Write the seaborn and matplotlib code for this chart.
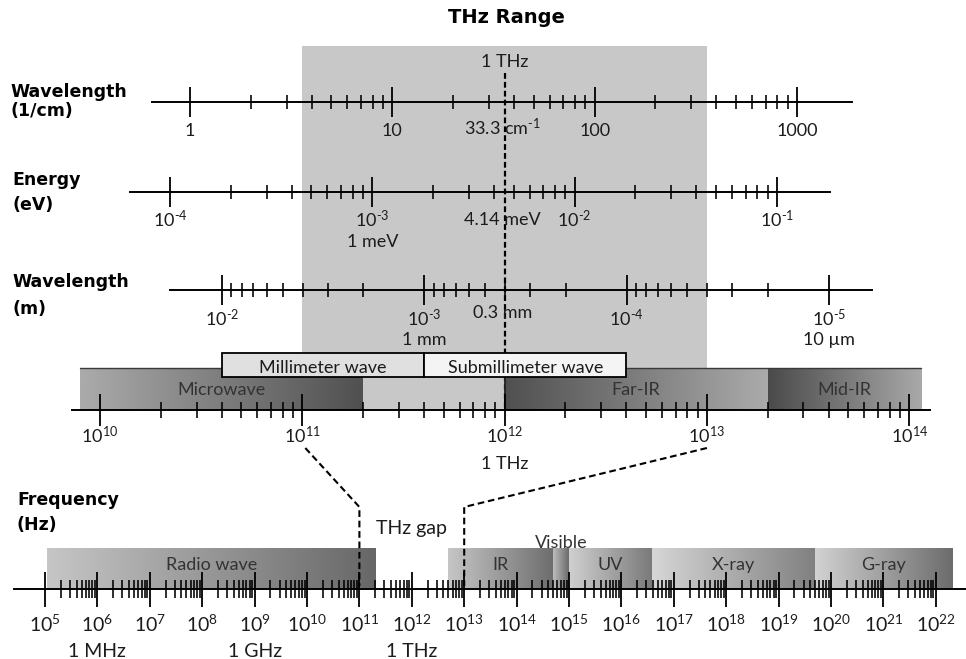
import numpy as np
import matplotlib
matplotlib.use("Agg")
import matplotlib.pyplot as plt
from matplotlib.patches import Rectangle
import seaborn as sns

# ---------------- values ----------------
# wavenumber ruler (1/cm)
wavenumber_major = [1, 10, 100, 1000]
wavenumber_labels = ["1", "10", "100", "1000"]

# photon energy ruler (eV)
energy_major = [1e-4, 1e-3, 1e-2, 1e-1]
energy_labels = ["$10^{‐4}$", "$10^{‐3}$", "$10^{‐2}$", "$10^{‐1}$"]
energy_notes = ["", "1 meV", "", ""]

# wavelength ruler (m), decreasing to the right
wavelength_major = [1e-2, 1e-3, 1e-4, 1e-5]
wavelength_labels = ["$10^{‐2}$", "$10^{‐3}$", "$10^{‐4}$", "$10^{‐5}$"]
wavelength_notes = ["", "1 mm", "", "10 µm"]

# zoomed frequency ruler (Hz)
thz_major = [1e10, 1e11, 1e12, 1e13, 1e14]
thz_labels = ["$10^{10}$", "$10^{11}$", "$10^{12}$", "$10^{13}$", "$10^{14}$"]
thz_notes = ["", "", "1 THz", "", ""]

# full spectrum frequency ruler (Hz)
spec_major = [1e5, 1e6, 1e7, 1e8, 1e9, 1e10, 1e11, 1e12, 1e13,
              1e14, 1e15, 1e16, 1e17, 1e18, 1e19, 1e20, 1e21, 1e22]
spec_labels = ["$10^{5}$", "$10^{6}$", "$10^{7}$", "$10^{8}$", "$10^{9}$",
               "$10^{10}$", "$10^{11}$", "$10^{12}$", "$10^{13}$", "$10^{14}$",
               "$10^{15}$", "$10^{16}$", "$10^{17}$", "$10^{18}$", "$10^{19}$",
               "$10^{20}$", "$10^{21}$", "$10^{22}$"]
spec_notes = ["", "1 MHz", "", "", "1 GHz", "", "", "1 THz", "",
              "", "", "", "", "", "", "", "", ""]

# THz region (Hz) and 1 THz marker
thz_range = (1e11, 1e13)
thz_marker = 1e12
thz_marker_notes = ["33.3 cm$^{‐1}$", "4.14 meV", "0.3 mm"]

# bands on the zoomed ruler (Hz)
zoom_bands = ["Microwave", "Far-IR", "Mid-IR"]
zoom_band_lo = [8e9, 1e12, 2e13]
zoom_band_hi = [2e11, 2e13, 1.15e14]
zoom_band_colors = [("#ababab", "#505050"), ("#505050", "#ababab"),
                    ("#4a4a4a", "#a9a9a9")]

wave_bands = ["Millimeter wave", "Submillimeter wave"]
wave_band_lo = [4e10, 4e11]
wave_band_hi = [4e11, 4e12]
wave_band_colors = ["#e0e0e0", "#f4f4f4"]

# bands on the full spectrum ruler (Hz)
spec_bands = ["Radio wave", "IR", "Visible", "UV", "X-ray", "G-ray"]
spec_band_lo = [1.1e5, 5e12, 5e14, 1e15, 3.8e16, 5e19]
spec_band_hi = [2e11, 5e14, 1e15, 3.8e16, 5e19, 2.1e22]
spec_band_colors = [("#c6c6c6", "#676767"), ("#c6c6c6", "#6e6e6e"),
                    ("#bdbdbd", "#6a6a6a"), ("#d0d0d0", "#7a7a7a"),
                    ("#d6d6d6", "#808080"), ("#d2d2d2", "#6c6c6c")]

# ---------------- style ----------------
sns.set_theme(style="white")
plt.rcParams["font.family"] = ["Lato", "DejaVu Sans"]
plt.rcParams["mathtext.fontset"] = "custom"
plt.rcParams["mathtext.rm"] = "Lato"
plt.rcParams["mathtext.default"] = "regular"

W, H = 966, 659
TXT = "#1c1c1c"
BAND_TXT = "#333333"
HEAD = dict(family="DejaVu Sans", weight="bold", size=12.5, color="black")

fig = plt.figure(figsize=(W / 100, H / 100), dpi=100)
bg = fig.add_axes([0, 0, 1, 1])
bg.set_xlim(0, W)
bg.set_ylim(H, 0)
bg.set_autoscale_on(False)
bg.axis("off")


def minors(major):
    decades = sorted(major)[:-1]
    return [m * d for d in decades for m in range(2, 10)]


def ruler(anchor_val, anchor_px, decade_px, y_line, x_from, x_to, major,
          major_len, minor_len, lw=1.4):
    ax = fig.add_axes([0, 0, 1, 1])
    ax.patch.set_visible(False)

    def to_val(p):
        return anchor_val * 10 ** ((p - anchor_px) / decade_px)

    ax.set_xscale("log")
    ax.set_xlim(to_val(0), to_val(W))
    ax.set_ylim(H, 0)
    ax.grid(False)
    for s in ("top", "left", "right"):
        ax.spines[s].set_visible(False)
    sp = ax.spines["bottom"]
    sp.set_visible(True)
    sp.set_position(("data", y_line))
    sp.set_bounds(to_val(x_from), to_val(x_to))
    sp.set_color("black")
    sp.set_linewidth(lw)
    ax.set_xticks(major)
    ax.set_xticks(minors(major), minor=True)
    ax.tick_params(axis="x", which="major", direction="inout", bottom=True,
                   length=major_len * 0.72, width=1.3, color="black",
                   labelbottom=False)
    ax.tick_params(axis="x", which="minor", direction="inout", bottom=True,
                   length=minor_len * 0.72, width=1.15, color="black",
                   labelbottom=False)
    ax.tick_params(axis="y", left=False, labelleft=False)
    ax.set_xlim(to_val(0), to_val(W))
    return ax


def px(ax, v):
    return ax.transData.transform((v, 0))[0]


def labels(ax, values, texts, base, size, notes=None, note_base=None):
    for i, (v, t) in enumerate(zip(values, texts)):
        ax.text(v, base, t, ha="center", va="baseline", fontsize=size,
                color=TXT)
        if notes and notes[i]:
            ax.text(v, note_base, notes[i], ha="center", va="baseline",
                    fontsize=size, color=TXT)


def gradient(x0, x1, ytop, ybot, c_left, c_right, edge=None):
    cmap = sns.blend_palette([c_left, c_right], as_cmap=True)
    grad = np.linspace(0, 1, 256)[None, :]
    bg.imshow(grad, cmap=cmap, extent=(x0, x1, ybot, ytop), aspect="auto",
              interpolation="bilinear", zorder=3)
    if edge:
        bg.plot([x0, x1], [ytop, ytop], color=edge, lw=1.0, zorder=3.5)


# rulers
r_wn = ruler(1, 190, 202.3, 102, 152, 852, wavenumber_major, 30, 14)
r_ev = ruler(1e-4, 170, 202.3, 192, 130, 830, energy_major, 30, 14)
r_wl = ruler(1e-2, 222, -202.3, 290, 170, 872, wavelength_major, 30, 14)
r_thz = ruler(1e10, 100, 202.3, 410, 72, 930, thz_major, 32, 16)
r_spec = ruler(1e5, 45, 52.4, 589, 14, 966, spec_major, 35, 18)

# tick labels
labels(r_wn, wavenumber_major, wavenumber_labels, 136, 13)
labels(r_ev, energy_major, energy_labels, 227, 13, energy_notes, 247)
labels(r_wl, wavelength_major, wavelength_labels, 326, 13, wavelength_notes, 345)
labels(r_thz, thz_major, thz_labels, 443, 13, thz_notes, 469)
labels(r_spec, spec_major, spec_labels, 632, 14, spec_notes, 657)

# THz region background
gx0, gx1 = px(r_thz, thz_range[0]), px(r_thz, thz_range[1])
bg.add_patch(Rectangle((gx0, 46), gx1 - gx0, 410 - 46, facecolor="#c8c8c8",
                       edgecolor="none", zorder=0))

# 1 THz marker line
mx = px(r_thz, thz_marker)
bg.plot([mx, mx], [73, 410], color="black", lw=1.6, ls=(0, (2.6, 1.4)),
        zorder=2)
bg.text(mx, 67, "1 THz", ha="center", va="baseline", fontsize=13, color=TXT)
for t, yb in zip(thz_marker_notes, [135, 225, 318]):
    bg.text(mx - 2, yb, t, ha="center", va="baseline", fontsize=13, color=TXT)

# bands on the zoomed ruler
for name, lo, hi, (cl, cr) in zip(zoom_bands, zoom_band_lo, zoom_band_hi,
                                  zoom_band_colors):
    x0, x1 = px(r_thz, lo), px(r_thz, hi)
    gradient(x0, x1, 368, 410, cl, cr, edge="#3a3a3a")
    bg.text((x0 + x1) / 2, 395, name, ha="center", va="baseline",
            fontsize=13, color=BAND_TXT, zorder=6)
bg.plot([mx, mx], [378, 410], color="#222222", lw=1.3, zorder=4)

for name, lo, hi, fc in zip(wave_bands, wave_band_lo, wave_band_hi,
                            wave_band_colors):
    x0, x1 = px(r_thz, lo), px(r_thz, hi)
    bg.add_patch(Rectangle((x0, 353), x1 - x0, 24, facecolor=fc,
                           edgecolor="black", lw=1.3, zorder=5))
    bg.text((x0 + x1) / 2, 373, name, ha="center", va="baseline",
            fontsize=13, color=TXT, zorder=6)

# bands on the full spectrum ruler
for name, lo, hi, (cl, cr) in zip(spec_bands, spec_band_lo, spec_band_hi,
                                  spec_band_colors):
    x0, x1 = px(r_spec, lo), px(r_spec, hi)
    gradient(x0, x1, 548, 588, cl, cr)
    if name == "Visible":
        bg.text((x0 + x1) / 2, 548, name, ha="center", va="baseline",
                fontsize=13, color=BAND_TXT, zorder=6)
    else:
        bg.text((x0 + x1) / 2, 570, name, ha="center", va="baseline",
                fontsize=13, color=BAND_TXT, zorder=6)

# zoom connectors between the two frequency rulers
dash = (0, (3.2, 1.8))
for v, x_top in ((1e11, px(r_thz, 1e11) + 3), (1e13, px(r_thz, 1e13))):
    xb = px(r_spec, v)
    bg.plot([x_top, xb, xb], [448, 507, 586], color="black", lw=1.5,
            ls=dash, zorder=4)
bg.text((px(r_spec, 1e11) + px(r_spec, 1e13)) / 2, 534, "THz gap",
        ha="center", va="baseline", fontsize=14, color=TXT)

# headings
bg.text(506, 23, "THz Range", ha="center", va="baseline",
        **{**HEAD, "size": 14})
for x, y, t in [(10, 97, "Wavelength"), (10, 116, "(1/cm)"),
                (12, 185, "Energy"), (12, 210, "(eV)"),
                (12, 287, "Wavelength"), (12, 314, "(m)"),
                (17, 505, "Frequency"), (17, 530, "(Hz)")]:
    bg.text(x, y, t, ha="left", va="baseline", **HEAD)

fig.savefig("out.png", dpi=100, facecolor="white")
